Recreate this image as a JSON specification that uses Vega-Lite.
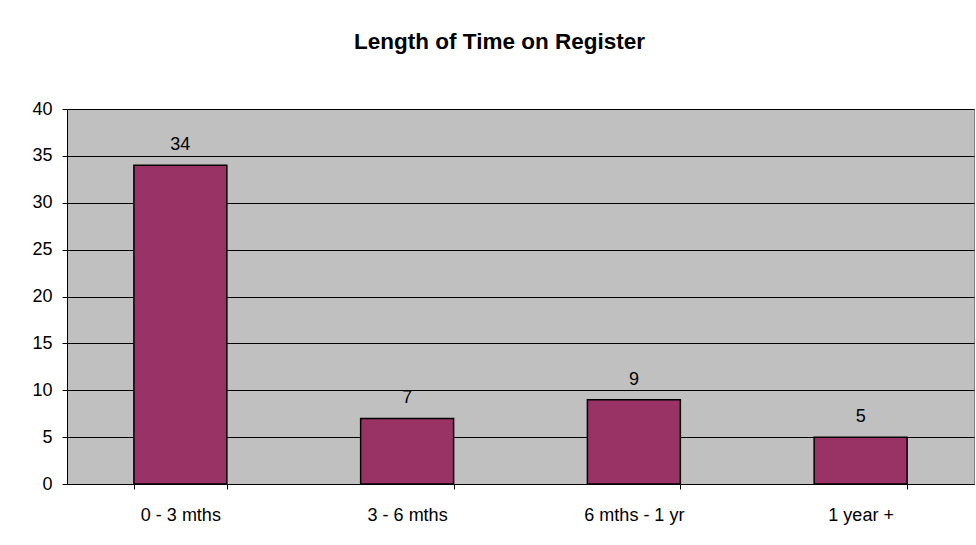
{
  "$schema": "https://vega.github.io/schema/vega-lite/v6.json",
  "autosize": {"type": "none"},
  "padding": {"left": 67, "top": 109, "right": 2, "bottom": 61},
  "width": 907,
  "height": 375,
  "background": "white",
  "title": {
    "text": "Length of Time on Register",
    "font": "Liberation Sans",
    "fontSize": 22.5,
    "fontWeight": "bold",
    "color": "black",
    "anchor": "middle",
    "baseline": "alphabetic",
    "offset": 29,
    "dx": -21,
    "limit": 0
  },
  "data": {
    "values": [
      {"period": "0 - 3 mths", "count": 34},
      {"period": "3 - 6 mths", "count": 7},
      {"period": "6 mths - 1 yr", "count": 9},
      {"period": "1 year +", "count": 5}
    ]
  },
  "encoding": {
    "x": {
      "field": "period",
      "type": "nominal",
      "sort": null,
      "scale": {"paddingInner": 0.59, "paddingOuter": 0.295},
      "axis": {
        "title": null,
        "labelAngle": 0,
        "labelFont": "Liberation Sans",
        "labelFontSize": 18,
        "labelColor": "black",
        "labelPadding": 17,
        "tickBand": "extent",
        "tickSize": 5,
        "tickColor": "black",
        "domainColor": "black",
        "grid": false
      }
    },
    "y": {
      "field": "count",
      "type": "quantitative",
      "scale": {"domain": [0, 40], "nice": false},
      "axis": {
        "title": null,
        "values": [0, 5, 10, 15, 20, 25, 30, 35, 40],
        "labelFont": "Liberation Sans",
        "labelFontSize": 18,
        "labelColor": "black",
        "labelPadding": 10,
        "tickSize": 5,
        "tickColor": "black",
        "domainColor": "black",
        "grid": true,
        "gridColor": "black",
        "gridOpacity": 1,
        "gridWidth": 1
      }
    }
  },
  "layer": [
    {
      "mark": {"type": "bar", "color": "#993366", "stroke": "black", "strokeWidth": 1.5}
    },
    {
      "mark": {"type": "text", "baseline": "alphabetic", "dy": -15, "font": "Liberation Sans", "fontSize": 18, "color": "black"},
      "encoding": {"text": {"field": "count", "type": "quantitative"}}
    }
  ],
  "config": {
    "view": {"fill": "#C0C0C0", "stroke": "#808080", "strokeWidth": 1}
  }
}
